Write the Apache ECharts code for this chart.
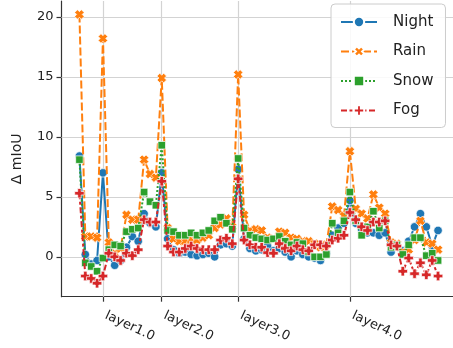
<!DOCTYPE html>
<html>
<head>
<meta charset="utf-8">
<script src="https://cdn.jsdelivr.net/npm/echarts@6/dist/echarts.min.js"></script>
<style>html,body{margin:0;padding:0;background:#fff}#c{width:453px;height:348px}</style>
</head>
<body>
<div id="c"></div>
<script>
// x positions are module indices 0..61
const tickPositions = [4, 14, 27, 46];
const tickLabels = ['layer1.0', 'layer2.0', 'layer3.0', 'layer4.0'];
const yTicks = [0, 5, 10, 15, 20];
const seriesNames = ['Night', 'Rain', 'Snow', 'Fog'];

const night = [8.4,0.2,-0.6,-0.3,7.0,0.0,-0.7,-0.3,0.8,1.7,1.3,3.6,2.8,2.5,7.0,1.5,0.6,0.3,0.4,0.2,0.1,0.2,0.3,0.0,1.0,1.1,0.9,7.3,1.5,0.7,0.5,0.6,0.9,0.5,0.7,0.4,0.0,0.5,0.2,0.0,-0.1,-0.3,0.3,1.8,2.4,2.8,4.7,2.8,2.3,2.0,2.0,1.8,2.0,0.4,0.9,0.5,1.3,2.5,3.6,2.5,0.9,2.2];
const rain = [20.2,1.7,1.7,1.6,18.2,1.2,0.3,0.7,3.5,3.1,3.1,8.1,6.9,6.6,14.9,2.4,1.5,1.3,1.3,1.4,1.4,1.6,1.8,2.4,2.7,3.2,2.5,15.2,3.5,2.2,2.3,2.2,1.6,1.5,2.1,2.0,1.6,1.5,1.3,1.3,1.1,0.8,1.0,4.2,3.9,3.4,8.8,4.0,3.6,3.2,5.2,4.1,3.6,1.2,1.1,0.4,0.6,1.4,3.0,1.2,1.1,0.6];
const snow = [8.1,-0.5,-0.8,-1.2,-0.1,0.6,1.0,0.9,2.1,2.3,2.4,5.4,4.6,4.3,9.3,2.2,2.1,1.8,1.8,2.0,1.8,2.0,2.2,3.0,3.3,2.8,2.3,8.2,2.4,1.8,1.6,1.5,1.4,1.5,1.7,1.3,1.0,1.2,1.1,0.4,0.0,0.0,0.2,2.8,2.0,3.0,5.4,3.0,1.8,2.5,3.8,2.4,3.0,0.8,1.0,0.2,1.0,1.6,1.6,0.1,0.3,-0.3];
const fog = [5.3,-1.6,-1.8,-2.2,-1.6,0.3,0.0,-0.3,0.3,0.1,0.6,3.1,2.9,2.9,6.3,0.9,0.4,0.4,0.7,0.9,0.7,0.6,0.6,0.6,1.4,1.55,1.1,6.5,1.4,1.0,0.8,0.8,0.35,0.3,1.1,0.7,0.5,0.9,0.6,0.5,1.0,1.0,0.9,1.4,1.55,1.8,3.7,3.1,2.5,2.2,2.9,2.9,3.0,1.0,0.9,-1.2,-0.1,-1.4,-0.5,-1.5,-0.3,-1.6];

const FONT = 'DejaVu Sans';
const colors = ['#1f77b4', '#ff7f0e', '#2ca02c', '#d62728'];
const xSym = 'path://M1.75,-4.25L4.25,-1.75L2.5,0L4.25,1.75L1.75,4.25L0,2.5L-1.75,4.25L-4.25,1.75L-2.5,0L-4.25,-1.75L-1.75,-4.25L0,-2.5Z';
const pSym = 'path://M-1.1,-3L1.1,-3L1.1,-1.1L3,-1.1L3,1.1L1.1,1.1L1.1,3L-1.1,3L-1.1,1.1L-3,1.1L-3,-1.1L-1.1,-1.1Z';
const symbols = ['circle', xSym, 'rect', pSym];
const symSizes = [8.5, 9.5, 7.5, 9.5];
const dashes = ['solid', [8, 3], [2, 2], [6, 2.5, 3, 2.5]];
const allData = [night, rain, snow, fog];

const series = allData.map((vals, k) => ({
  name: seriesNames[k],
  type: 'line',
  data: vals.map((v, i) => [i, v]),
  symbol: symbols[k],
  symbolSize: symSizes[k],
  showSymbol: true,
  color: colors[k],
  lineStyle: { width: 2, type: dashes[k], color: colors[k] },
  itemStyle: { color: colors[k], borderColor: '#ffffff', borderWidth: 0.7 },
  animation: false,
  z: 2 + k * 0.01
}));

// gridlines
series[0].markLine = {
  silent: true,
  z: 1,
  symbol: ['none', 'none'],
  label: { show: false },
  lineStyle: { color: '#d3d3d3', width: 1.2, type: 'solid' },
  emphasis: { disabled: true },
  animation: false,
  data: tickPositions.map(p => ({ xAxis: p })).concat(yTicks.map(v => ({ yAxis: v })))
};

const chart = echarts.init(document.getElementById('c'), null, { renderer: 'canvas' });
chart.setOption({
  animation: false,
  backgroundColor: '#ffffff',
  grid: { left: 61.5, top: 1, width: 394.5, height: 295.7, containLabel: false, outerBoundsMode: 'none' },
  xAxis: {
    type: 'value', min: -3.05, max: 64.05,
    axisLine: { show: true, onZero: false, lineStyle: { color: '#333', width: 1.2 } },
    axisTick: { show: true, length: 5, customValues: tickPositions, lineStyle: { color: '#333', width: 1.2 } },
    axisLabel: {
      customValues: tickPositions,
      formatter: v => tickLabels[tickPositions.indexOf(Math.round(v))] || '',
      rotate: -25, margin: 17, padding: [0, 0, 0, 3],
      fontFamily: FONT, fontSize: 13, color: '#222'
    },
    splitLine: { show: false }
  },
  yAxis: {
    type: 'value', min: -3.32, max: 21.32,
    name: 'Δ mIoU', nameLocation: 'middle', nameGap: 37,
    nameTextStyle: { fontFamily: FONT, fontSize: 14, color: '#222', padding: [0, 20, 0, 0] },
    axisLine: { show: true, onZero: false, lineStyle: { color: '#333', width: 1.2 } },
    axisTick: { show: true, length: 5, customValues: yTicks, lineStyle: { color: '#333', width: 1.2 } },
    axisLabel: { customValues: yTicks, fontFamily: FONT, fontSize: 13, color: '#222', margin: 8 },
    splitLine: { show: false }
  },
  legend: {
    data: seriesNames,
    orient: 'vertical',
    left: 331, top: 4,
    padding: [10, 12, 9, 9],
    itemWidth: 36, itemHeight: 13, itemGap: 13.5,
    backgroundColor: 'rgba(255,255,255,0.85)',
    borderColor: '#cccccc', borderWidth: 1, borderRadius: 4,
    textStyle: { fontFamily: FONT, fontSize: 15, color: '#222', lineHeight: 16, padding: [0, 0, 0, 11] }
  },
  series: series
});
</script>
</body>
</html>
